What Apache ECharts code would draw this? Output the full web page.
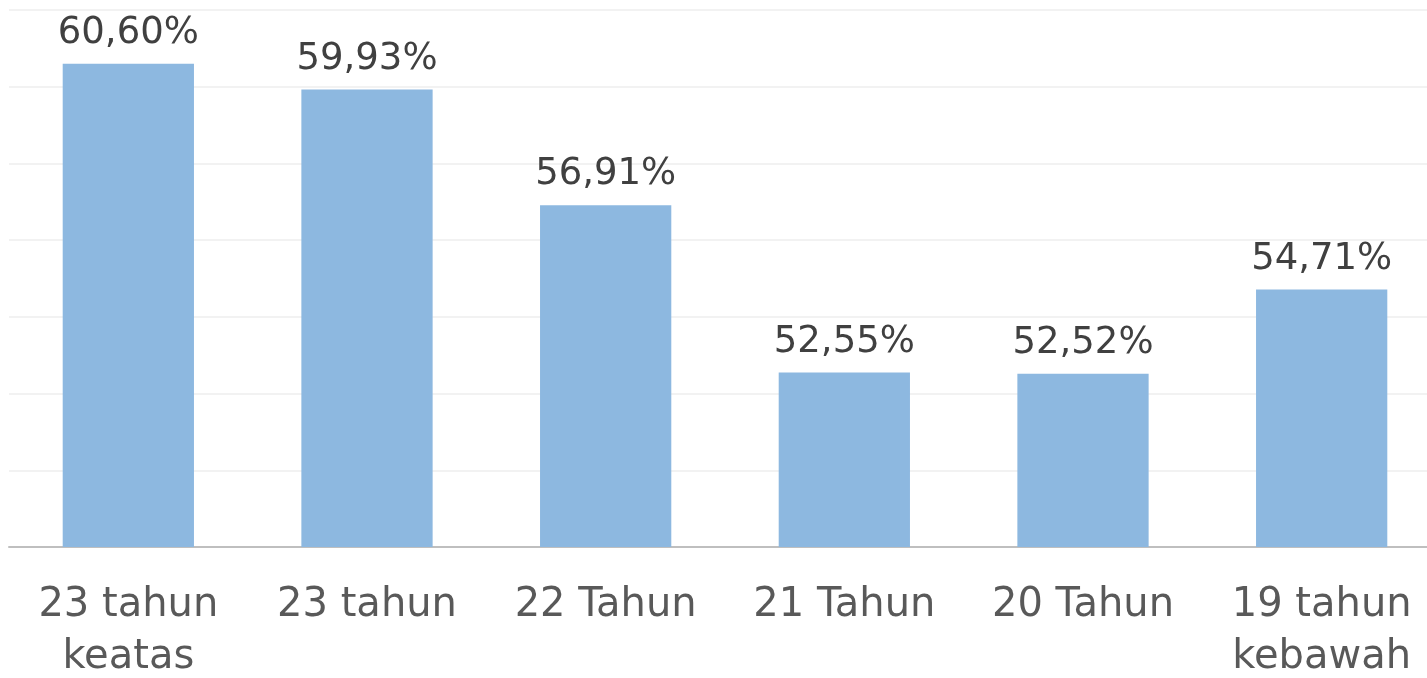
<!DOCTYPE html>
<html style="height: 100%">
  <head>
    <meta charset="utf-8">
    <script src="https://cdn.jsdelivr.net/npm/echarts@6/dist/echarts.min.js"></script>
  </head>
  <body style="margin: 0; background: #fff">
    <div id="container" style="height: 678px; width: 1427px;"></div>
    <script type="text/javascript">

var categories = ['23 tahun\nkeatas', '23 tahun', '22 Tahun', '21 Tahun', '20 Tahun', '19 tahun\nkebawah'];
var values = [60.60, 59.93, 56.91, 52.55, 52.52, 54.71];
var yMin = 48, yMax = 62, yStep = 2;

var myChart = echarts.init(document.getElementById('container'));

var option = {
    animation: false,
    textStyle: { fontFamily: 'DejaVu Sans' },
    grid: { left: 9, width: 1432, top: 10, height: 537, containLabel: false, outerBoundsMode: 'none' },
    xAxis: {
        type: 'category',
        data: categories,
        axisLine: { lineStyle: { color: '#bfbfbf', width: 2 } },
        axisTick: { show: false },
        axisLabel: {
            interval: 0,
            margin: 33,
            fontSize: 40,
            lineHeight: 52,
            color: '#595959',
            fontFamily: 'DejaVu Sans'
        }
    },
    yAxis: {
        type: 'value',
        min: yMin,
        max: yMax,
        interval: yStep,
        axisLabel: { show: false },
        axisLine: { show: false },
        axisTick: { show: false },
        splitLine: { lineStyle: { color: '#eeeeee', width: 1.5 } }
    },
    series: [{
        type: 'bar',
        data: values,
        barWidth: '55%',
        itemStyle: { color: '#8db8e0' },
        label: {
            show: true,
            position: 'top',
            distance: 12,
            fontSize: 37,
            color: '#404040',
            fontFamily: 'DejaVu Sans',
            formatter: function (p) {
                return p.value.toFixed(2).replace('.', ',') + '%';
            }
        }
    }]
};

myChart.setOption(option);
    </script>
  </body>
</html>
